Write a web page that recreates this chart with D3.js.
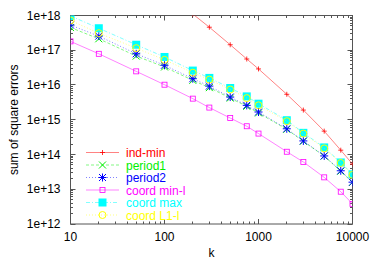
<!DOCTYPE html>
<html>
<head>
<meta charset="utf-8">
<script src="https://cdn.jsdelivr.net/npm/d3@7"></script>
<style>
  body { margin: 0; background: #fff; }
  text { font-family: "Liberation Sans", Arial, sans-serif; }
</style>
</head>
<body>
<div id="chart"></div>
<script>
const kAll = [10, 20, 50, 100, 200, 300, 500, 750, 1000, 2000, 3000, 5000, 7500, 10000]
const kRed = [200, 300, 500, 750, 1000, 2000, 3000, 5000, 7500, 10000]

const indMin = [1.1e18, 4.6e17, 1.44e17, 5.6e16, 2.9e16, 5.4e15, 1.9e15, 4.7e14, 1.33e14, 5.3e13]
const period1 = [4.5e17, 2.14e17, 6.8e16, 3.3e16, 1.36e16, 8.4e15, 4.2e15, 2.44e15, 1.57e15, 5.3e14, 2.4e14, 9.0e13, 3.3e13, 1.57e13]
const period2 = [5.3e17, 2.55e17, 7.9e16, 3.7e16, 1.52e16, 9.3e15, 4.5e15, 2.6e15, 1.67e15, 5.5e14, 2.46e14, 9.1e13, 3.4e13, 1.6e13]
const coordMinL = [1.8e17, 7.9e16, 2.47e16, 1.02e16, 4.05e15, 2.24e15, 1.12e15, 6.5e14, 4.0e14, 1.2e14, 6.1e13, 2.2e13, 8.5e12, 3.8e12]
const coordMax = [9.7e17, 4.3e17, 1.44e17, 6.4e16, 2.6e16, 1.6e16, 8.2e15, 4.7e15, 2.9e15, 9.7e14, 4.2e14, 1.6e14, 5.9e13, 2.7e13]
const coordL1L = [7.2e17, 3.1e17, 1.15e17, 5.3e16, 2.26e16, 1.43e16, 7.4e15, 4.2e15, 2.6e15, 9.1e14, 4.0e14, 1.5e14, 5.7e13, 2.6e13]

const xTicks = [10, 100, 1000, 10000]
const yTicks = [1e12, 1e13, 1e14, 1e15, 1e16, 1e17, 1e18]

const series = [
  {name: 'ind-min', k: kRed, v: indMin, color: '#ff0000', dash: null, mark: 'plus'},
  {name: 'period1', k: kAll, v: period1, color: '#00ee00', dash: '3,2', mark: 'cross'},
  {name: 'period2', k: kAll, v: period2, color: '#0000ff', dash: '1,2', mark: 'star'},
  {name: 'coord min-l', k: kAll, v: coordMinL, color: '#ff00ff', dash: null, mark: 'square'},
  {name: 'coord max', k: kAll, v: coordMax, color: '#00ffff', dash: '4,2,1,2', mark: 'fsquare'},
  {name: 'coord L1-l', k: kAll, v: coordL1L, color: '#ffff00', dash: '1,2', mark: 'circle'}
]

const W = 374, H = 262
const m = {top: 15.5, right: 21.5, bottom: 38, left: 70.5}
const w = W - m.left - m.right
const h = H - m.top - m.bottom

const svg = d3.select('#chart').append('svg').attr('width', W).attr('height', H)
const g = svg.append('g').attr('transform', `translate(${m.left},${m.top})`)

const x = d3.scaleLog().domain([10, 10000]).range([0, w])
const y = d3.scaleLog().domain([1e12, 1e18]).range([h, 0])

// minor ticks
const minorX = d3.range(1, 4).flatMap(e => d3.range(2, 10).map(d => d * 10 ** e)).filter(v => v < 10000)
const minorY = d3.range(12, 18).flatMap(e => d3.range(2, 10).map(d => d * 10 ** e))
const tickCol = '#555'
const r = v => Math.round(v)

g.selectAll('.mx').data(minorX).enter().append('g').each(function (d) {
  const s = d3.select(this)
  s.append('line').attr('x1', r(x(d))).attr('x2', r(x(d))).attr('y1', h).attr('y2', h - 2.5).attr('stroke', tickCol)
  s.append('line').attr('x1', r(x(d))).attr('x2', r(x(d))).attr('y1', 0).attr('y2', 2.5).attr('stroke', tickCol)
})
g.selectAll('.Mx').data(xTicks).enter().append('g').each(function (d) {
  const s = d3.select(this)
  s.append('line').attr('x1', r(x(d))).attr('x2', r(x(d))).attr('y1', h).attr('y2', h - 5).attr('stroke', tickCol)
  s.append('line').attr('x1', r(x(d))).attr('x2', r(x(d))).attr('y1', 0).attr('y2', 5).attr('stroke', tickCol)
  s.append('text').attr('x', x(d)).attr('y', h + 17).attr('text-anchor', 'middle')
    .attr('font-size', 12).text(d)
})
g.selectAll('.my').data(minorY).enter().append('g').each(function (d) {
  const s = d3.select(this)
  s.append('line').attr('x1', 0).attr('x2', 2.5).attr('y1', r(y(d))).attr('y2', r(y(d))).attr('stroke', tickCol)
  s.append('line').attr('x1', w).attr('x2', w - 2.5).attr('y1', r(y(d))).attr('y2', r(y(d))).attr('stroke', tickCol)
})
g.selectAll('.My').data(yTicks).enter().append('g').each(function (d) {
  const s = d3.select(this)
  s.append('line').attr('x1', 0).attr('x2', 5).attr('y1', r(y(d))).attr('y2', r(y(d))).attr('stroke', tickCol)
  s.append('line').attr('x1', w).attr('x2', w - 5).attr('y1', r(y(d))).attr('y2', r(y(d))).attr('stroke', tickCol)
  s.append('text').attr('x', -10).attr('y', y(d) + 4).attr('text-anchor', 'end')
    .attr('font-size', 12).text(d3.format('.0e')(d))
})

g.append('rect').attr('width', w).attr('height', h).attr('fill', 'none').attr('stroke', tickCol)

svg.append('text').attr('transform', `translate(18,${m.top + h / 2}) rotate(-90)`)
  .attr('text-anchor', 'middle').attr('font-size', 12).text('sum of square errors')
svg.append('text').attr('x', m.left + w / 2).attr('y', H - 5)
  .attr('text-anchor', 'middle').attr('font-size', 12).text('k')

svg.append('clipPath').attr('id', 'clip').append('rect').attr('width', w).attr('height', h)
const plot = g.append('g').attr('clip-path', 'url(#clip)')

function marker(sel, type, color) {
  if (type === 'plus') {
    sel.append('path').attr('d', 'M-2.5,0H2.5M0,-2.5V2.5').attr('stroke', color).attr('fill', 'none').attr('stroke-width', 0.8)
  } else if (type === 'cross') {
    sel.append('path').attr('d', 'M-3.5,-3.5L3.5,3.5M-3.5,3.5L3.5,-3.5').attr('stroke', color).attr('fill', 'none')
  } else if (type === 'star') {
    sel.append('path').attr('d', 'M-3.5,-3.5L3.5,3.5M-3.5,3.5L3.5,-3.5M-4,0H4M0,-4V4').attr('stroke', color).attr('fill', 'none')
  } else if (type === 'square') {
    sel.append('rect').attr('x', -2.5).attr('y', -2.5).attr('width', 5).attr('height', 5)
      .attr('stroke', color).attr('fill', 'none').attr('stroke-width', 0.8)
  } else if (type === 'fsquare') {
    sel.append('rect').attr('x', -4).attr('y', -4).attr('width', 8).attr('height', 8).attr('fill', color)
  } else if (type === 'circle') {
    sel.append('circle').attr('r', 3.5).attr('stroke', color).attr('fill', 'none')
  }
}

const line = d3.line().x(d => x(d[0])).y(d => y(d[1]))

series.forEach((s, i) => {
  const pts = s.k.map((k, j) => [k, s.v[j]])
  plot.append('path').datum(pts).attr('d', line).attr('fill', 'none')
    .attr('stroke', s.color).attr('stroke-width', 0.7).attr('stroke-opacity', 0.7)
    .attr('stroke-dasharray', s.dash)
  plot.selectAll(null).data(pts).enter().append('g')
    .attr('transform', d => `translate(${x(d[0])},${y(d[1])})`)
    .each(function () { marker(d3.select(this), s.mark, s.color) })

  // legend
  const ly = 152.5 + i * 12.5 - m.top
  const lg = g.append('g').attr('transform', `translate(0,${ly})`)
  lg.append('line').attr('x1', 86 - m.left).attr('x2', 119 - m.left)
    .attr('stroke', s.color).attr('stroke-width', 0.7).attr('stroke-opacity', 0.7)
    .attr('stroke-dasharray', s.dash)
  const mk = lg.append('g').attr('transform', `translate(${102.5 - m.left},0)`)
  marker(mk, s.mark, s.color)
  lg.append('text').attr('x', 126 - m.left).attr('y', 4.5).attr('font-size', 12)
    .attr('fill', s.color).text(s.name)
})
</script>
</body>
</html>
